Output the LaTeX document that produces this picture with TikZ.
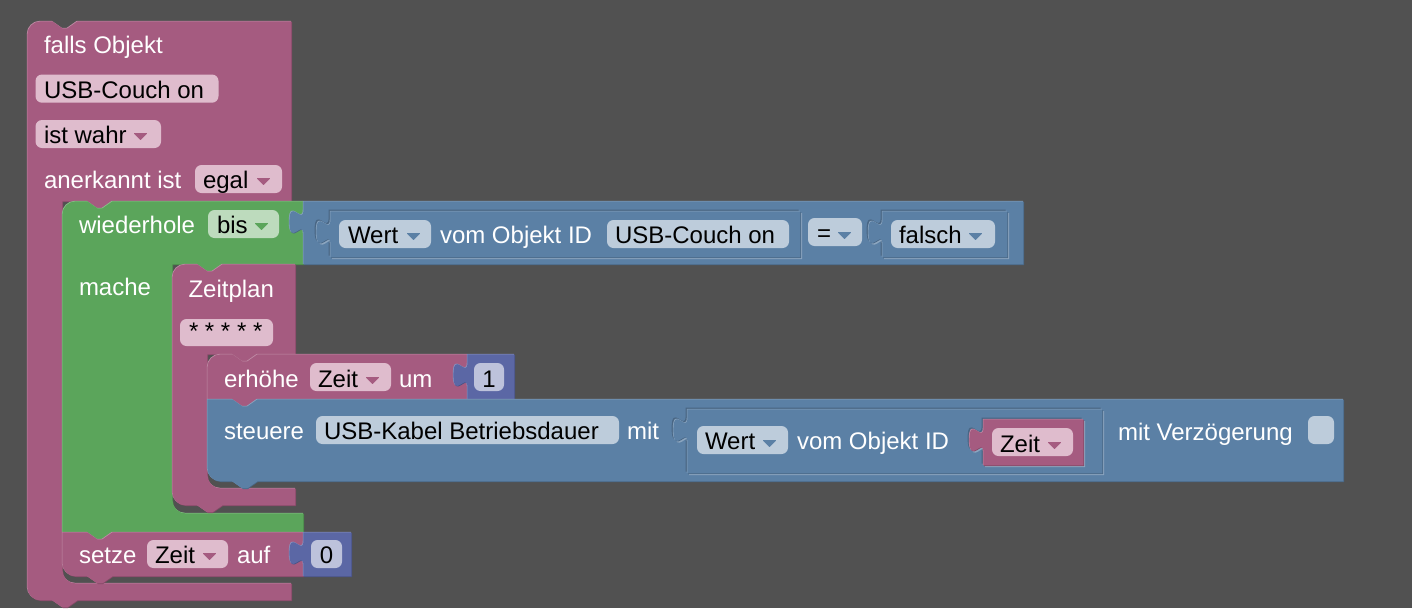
\documentclass[tikz,border=0pt]{standalone}
\usepackage{fontspec}
\setmainfont{Liberation Sans}
\definecolor{bgc}{HTML}{515151}
\definecolor{pur}{HTML}{A55B80}\definecolor{purD}{HTML}{844966}\definecolor{purL}{HTML}{C08CA6}\definecolor{purF}{HTML}{DFBCCD}
\definecolor{grn}{HTML}{5BA55B}\definecolor{grnD}{HTML}{498449}\definecolor{grnL}{HTML}{8CC08C}\definecolor{grnF}{HTML}{BDDBBD}
\definecolor{blu}{HTML}{5B80A5}\definecolor{bluD}{HTML}{496684}\definecolor{bluL}{HTML}{8CA6C0}\definecolor{bluF}{HTML}{BDCCDB}
\definecolor{ind}{HTML}{5B67A5}\definecolor{indD}{HTML}{495284}\definecolor{indL}{HTML}{8C95C0}\definecolor{indF}{HTML}{BDC2DB}
\tikzset{
  lbl/.style={anchor=base west,inner sep=0pt,outer sep=0pt,text=white,font=\fontsize{24}{24}\selectfont},
  fldtext/.style={lbl,text=black},
  fldbox/.style={rounded corners=6.5pt},
  tri/.style={line join=round,line width=1pt}
}
% block with highlight and shadow: colour, path
\newcommand\blk[2]{%
  \fill[#1D,shift={(1,1)}] #2;
  \fill[#1L,shift={(-0.2,-0.2)}] #2;
  \fill[#1,shift={(0.4,0.4)}] #2;}
\newcommand\vshape[2]{(0,0) -- (#1,0) -- (#1,#2) -- (0,#2) -- (0,33) .. controls (0,16.5) and (-14,46.25) .. (-14,20.65) .. controls (-14,-4.95) and (0,24.75) .. (0,8.25) -- cycle}
% value block with output tab: colour, x, y, w, h
\newcommand\valb[5]{\begin{scope}[shift={(#2,#3)}]\blk{#1}{\vshape{#4}{#5}}\end{scope}}
% inset socket around a value block: x, y, w, h
\newcommand\sockb[4]{\begin{scope}[shift={(#1,#2)}]
  \fill[bluD,shift={(-1.4,-1.4)}] \vshape{#3}{#4};
  \fill[bluL,shift={(2.2,2.2)}] \vshape{#3}{#4};
  \end{scope}}
% field: fill colour, x1,y1,x2,y2
\newcommand\fieldb[5]{\fill[#1F,fldbox] (#2,#3) rectangle (#4,#5);}
% dropdown arrow: colour, x, y
\newcommand\dropa[3]{\filldraw[#1,tri] (#2+0.5,#3+0.5) -- (#2+12.5,#3+0.5) -- (#2+6.5,#3+6.5) -- cycle;}
\begin{document}
\begin{tikzpicture}[x=1pt,y=-1pt]
\useasboundingbox (0,0) rectangle (1412,608);
\fill[bgc] (0,0) rectangle (1412,608);
% falls Objekt
\blk{pur}{(27,34) .. controls (27,27) and (33,21) .. (40,21) -- (52,21) -- (62,28) -- (67,28) -- (77,21) -- (291,21) -- (291,201) -- (112,201) -- (102,208) -- (97,208) -- (87,201) -- (62,201) -- (62,570) .. controls (62,577) and (68,583) .. (75,583) -- (291,583) -- (291,600) -- (77,600) -- (67,607) -- (62,607) -- (52,600) -- (40,600) .. controls (33,600) and (27,594) .. (27,587) -- cycle}
% wiederhole
\blk{grn}{(62,214) .. controls (62,207) and (68,201) .. (75,201) -- (87,201) -- (97,208) -- (102,208) -- (112,201) -- (303,201) -- (303,264) -- (222,264) -- (212,271) -- (207,271) -- (197,264) -- (172,264) -- (172,500) .. controls (172,507) and (178,513) .. (185,513) -- (303,513) -- (303,532) -- (112,532) -- (102,539) -- (97,539) -- (87,532) -- (62,532) -- cycle}
% setze
\blk{pur}{(62,532) -- (87,532) -- (97,539) -- (102,539) -- (112,532) -- (303,532) -- (303,576) -- (112,576) -- (102,583) -- (97,583) -- (87,576) -- (75,576) .. controls (68,576) and (62,570) .. (62,563) -- cycle}
\valb{ind}{303}{532}{48}{44}
% Zeitplan
\blk{pur}{(172,277) .. controls (172,270) and (178,264) .. (185,264) -- (197,264) -- (207,271) -- (212,271) -- (222,264) -- (295,264) -- (295,354) -- (257,354) -- (247,361) -- (242,361) -- (232,354) -- (207,354) -- (207,475) .. controls (207,482) and (213,488) .. (220,488) -- (295,488) -- (295,505) -- (222,505) -- (212,512) -- (207,512) -- (197,505) -- (185,505) .. controls (178,505) and (172,499) .. (172,492) -- cycle}
% erhoehe
\blk{pur}{(207,367) .. controls (207,360) and (213,354) .. (220,354) -- (232,354) -- (242,361) -- (247,361) -- (257,354) -- (467,354) -- (467,399) -- (257,399) -- (247,406) -- (242,406) -- (232,399) -- (207,399) -- cycle}
\valb{ind}{467}{354}{47}{45}
% steuere
\blk{blu}{(207,399) -- (232,399) -- (242,406) -- (247,406) -- (257,399) -- (1343,399) -- (1343,481) -- (257,481) -- (247,488) -- (242,488) -- (232,481) -- (220,481) .. controls (213,481) and (207,475) .. (207,468) -- cycle}
% top value
\valb{blu}{303}{201}{720}{63}
\sockb{330}{211}{470}{46}\valb{blu}{330}{211}{470}{46}
\sockb{882}{211}{125}{46}\valb{blu}{882}{211}{125}{46}
% steuere value
\sockb{687}{409}{415}{64}\valb{blu}{687}{409}{415}{64}
\sockb{983}{419}{100}{46}\valb{pur}{983}{419}{100}{46}
% fields
\fieldb{pur}{35.5}{74.5}{218.5}{102.7}
\fieldb{pur}{35.5}{120}{161}{148}\dropa{pur}{134}{133}
\fieldb{pur}{195}{165}{282}{193}\dropa{pur}{257}{178}
\fieldb{grn}{208}{210}{279}{238}\dropa{grn}{255}{223}
\fieldb{blu}{339}{220}{431}{248}\dropa{blu}{407}{233}
\fieldb{blu}{607}{220}{789}{248}
\fieldb{blu}{808}{218}{862}{246}\dropa{blu}{838}{232}
\fieldb{blu}{891}{220}{995}{248}\dropa{blu}{969}{233}
\fieldb{pur}{180}{319}{273}{346}
\fieldb{pur}{310}{363}{391}{391}\dropa{pur}{366}{377}
\fieldb{ind}{474}{363}{504}{391}
\fieldb{blu}{316}{416}{619}{444}
\fieldb{blu}{697}{426}{788}{454}\dropa{blu}{763}{440}
\fieldb{pur}{992}{428}{1073}{456}\dropa{pur}{1048}{442}
\fieldb{blu}{1308}{416}{1334}{444}
\fieldb{pur}{147}{540}{228}{568}\dropa{pur}{203}{553}
\fieldb{ind}{311}{540}{342}{568}
% labels
\node[lbl] (t1) at (44,53) {falls Objekt};
\node[fldtext] (t2) at (44,98) {USB-Couch on};
\node[fldtext] (t3) at (44,143) {ist wahr};
\node[lbl] (t4) at (44,188) {anerkannt ist};
\node[fldtext] (t5) at (203,188) {egal};
\node[lbl] (t6) at (79,233) {wiederhole};
\node[fldtext] (t7) at (217,233) {bis};
\node[lbl] (t8) at (79,295) {mache};
\node[lbl] (t9) at (188.5,297) {Zeitplan};
\node[fldtext] (t10) at (189,339.5) {* * * * *};
\node[lbl] (t11) at (224,387) {erhöhe};
\node[fldtext] (t12) at (318,387) {Zeit};
\node[lbl] (t13) at (399,387) {um};
\node[fldtext,anchor=base] (t14) at (489,387) {1};
\node[lbl] (t15) at (224,439) {steuere};
\node[fldtext] (t16) at (324,439) {USB-Kabel Betriebsdauer};
\node[lbl] (t17) at (627,439) {mit};
\node[fldtext] (t18) at (705,449) {Wert};
\node[lbl] (t19) at (797,449) {vom Objekt ID};
\node[fldtext] (t20) at (1000,452) {Zeit};
\node[lbl] (t21) at (1118,440) {mit Verzögerung};
\node[fldtext] (t22) at (348,243) {Wert};
\node[lbl] (t23) at (440,243) {vom Objekt ID};
\node[fldtext] (t24) at (615,243) {USB-Couch on};
\node[fldtext] (t25) at (817,241) {=};
\node[fldtext] (t26) at (899,243) {falsch};
\node[lbl] (t27) at (79,563) {setze};
\node[fldtext] (t28) at (155,563) {Zeit};
\node[lbl] (t29) at (237,563) {auf};
\node[fldtext,anchor=base] (t30) at (326.5,563) {0};
\end{tikzpicture}
\end{document}
